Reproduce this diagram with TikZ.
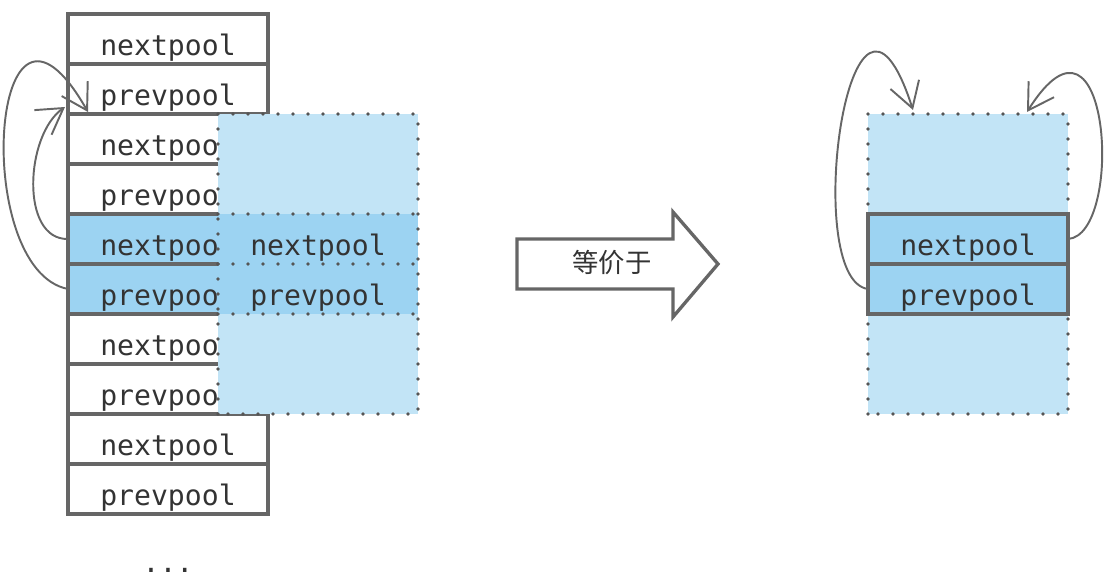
\documentclass[tikz,border=0pt]{standalone}
\usepackage{fontspec}
\setmonofont{DejaVu Sans Mono}
\newfontfamily\cjk{Noto Sans CJK SC}
\usepackage{tikz}
\usetikzlibrary{arrows.meta,positioning,calc}
\definecolor{linegray}{HTML}{666666}
\definecolor{dotgray}{HTML}{555555}
\definecolor{textgray}{HTML}{333333}
\definecolor{lightblue}{HTML}{C2E4F6}
\definecolor{darkblue}{HTML}{9CD3F2}
\tikzstyle{cell}=[draw=linegray, line width=1.9pt, fill=white, outer sep=0pt, inner sep=0pt,
  minimum width=4cm, minimum height=1cm, text height=0.66cm, text depth=0cm,
  text=textgray, font=\ttfamily\fontsize{16}{19}\selectfont]
\tikzstyle{bluecell}=[cell, fill=darkblue]
\tikzstyle{pool}=[fill=lightblue]
\tikzstyle{dots}=[draw=dotgray, line width=2.1pt, line cap=round, dash pattern=on 0pt off 0.3cm]
\tikzstyle{link}=[draw=linegray, line width=1.1pt, -{Straight Barb[length=0.5cm, width=0.6cm]}]

\begin{document}
\begin{tikzpicture}

\useasboundingbox (0,0) rectangle (22.22,11.7);

% colonne de gauche
\node[cell] (l1) at (3.36,10.92) {nextpool};
\node[cell, below=0cm of l1] (l2) {prevpool};
\node[cell, below=0cm of l2] (l3) {nextpool};
\node[cell, below=0cm of l3] (l4) {prevpool};
\node[bluecell, below=0cm of l4] (l5) {nextpool};
\node[bluecell, below=0cm of l5] (l6) {prevpool};
\node[cell, below=0cm of l6] (l7) {nextpool};
\node[cell, below=0cm of l7] (l8) {prevpool};
\node[cell, below=0cm of l8] (l9) {nextpool};
\node[cell, below=0cm of l9] (l10) {prevpool};

\node[text=textgray, font=\ttfamily\fontsize{16}{19}\selectfont] (more) at (3.36,0.3) {...};

% pool superpose
\fill[pool] (4.36,3.42) rectangle (8.36,9.42);
\fill[darkblue] (4.36,5.42) rectangle (8.36,7.42);
\draw[dots] (4.36,3.42) rectangle (8.36,9.42);
\draw[dots] (4.36,7.42) -- (8.36,7.42);
\draw[dots] (4.36,6.42) -- (8.36,6.42);
\draw[dots] (4.36,5.42) -- (8.36,5.42);
\node[cell, draw=none, fill=none] (on) at (6.36,6.92) {nextpool};
\node[cell, draw=none, fill=none] (op) at (6.36,5.92) {prevpool};

% liens a gauche
\coordinate (ltip1) at (1.76,9.46);
\coordinate (ltip2) at (1.3,9.56);
\draw[link] (l6.west) .. controls (-0.6,6.3) and (-0.2,12.9) .. (ltip1);
\draw[link] (l5.west) .. controls (0.4,6.9) and (0.5,9.0) .. (ltip2);

% fleche
\draw[linegray, line width=1.9pt, fill=white] (10.34,6.92) -- (13.46,6.92) -- (13.46,7.46) -- (14.36,6.42)
  -- (13.46,5.36) -- (13.46,5.92) -- (10.34,5.92) -- cycle;
\node[text=textgray, font=\cjk\fontsize{15}{18}\selectfont] (eq) at (12.24,6.44) {等价于};

% pool vide a droite
\fill[pool] (17.36,3.42) rectangle (21.36,9.42);
\draw[dots] (17.36,3.42) rectangle (21.36,9.42);
\node[bluecell] (rn) at (19.36,6.92) {nextpool};
\node[bluecell, below=0cm of rn] (rp) {prevpool};

% liens a droite
\coordinate (rtip1) at (18.26,9.5);
\coordinate (rtip2) at (20.54,9.46);
\draw[link] (rp.west) .. controls (16.0,6.1) and (17.0,13.4) .. (rtip1);
\draw[link] (rn.east) .. controls (22.5,7.0) and (22.2,12.1) .. (rtip2);

\end{tikzpicture}
\end{document}
